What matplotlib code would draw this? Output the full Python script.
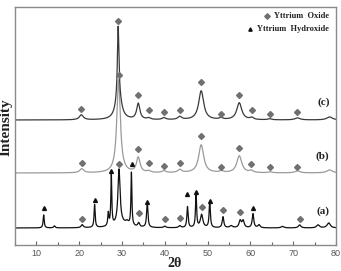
import numpy as np
import matplotlib
matplotlib.use("Agg")
import matplotlib.pyplot as plt

# ---- data (y in arbitrary intensity units) ----
two_theta_range = (5, 80)

a_base = 17
a_pos = [11.7, 14.2, 20.7, 23.6, 26.8, 27.5, 29.3, 30.0, 31.2, 32.2, 33.9, 35.9, 40.0, 43.5,
         45.3, 47.3, 48.6, 50.5, 53.6, 55.5, 57.6, 58.3, 60.6, 62.0, 67.5, 71.5, 75.8, 78.3]
a_height = [13, 2, 3, 23, 13, 51, 55, 4, 3, 53, 4, 25, 1.5, 2,
            21, 34, 13, 26, 11, 2, 7, 7, 14, 3, 1.5, 3, 3, 5]
a_hwhm = [0.15, 0.2, 0.3, 0.15, 0.15, 0.13, 0.3, 2.0, 0.4, 0.13, 0.25, 0.18, 0.3, 0.3,
          0.17, 0.15, 0.35, 0.17, 0.22, 0.4, 0.3, 0.3, 0.22, 0.3, 0.4, 0.35, 0.4, 0.45]

b_base = 72
b_pos = [20.6, 29.2, 33.8, 36.2, 39.8, 43.5, 48.5, 53.2, 57.4, 60.2, 64.6, 71.0, 78.5]
b_height = [4, 93, 15, 1.5, 2, 3, 28, 1.5, 17, 2, 1, 2, 3]
b_hwhm = [0.55, 0.5, 0.5, 0.5, 0.5, 0.55, 0.7, 0.5, 0.7, 0.5, 0.5, 0.7, 0.8]

c_base = 125
c_pos = [20.5, 29.1, 29.2, 33.8, 36.2, 39.8, 43.5, 48.5, 53.1, 57.4, 60.3, 64.5, 71.0, 78.5]
c_height = [5, 68, 26, 16, 1.5, 2, 3, 29, 1.5, 17, 2, 1, 2, 3]
c_hwhm = [0.55, 0.2, 0.75, 0.45, 0.5, 0.5, 0.55, 0.7, 0.5, 0.7, 0.5, 0.5, 0.7, 0.8]

a_tri_x = [11.7, 23.6, 27.5, 32.3, 35.9, 45.3, 47.3, 50.5, 60.7]
a_tri_y = [37, 45, 74, 81, 43, 51, 53, 44, 37]
a_dia_x = [20.7, 29.4, 33.9, 40.0, 43.6, 48.7, 53.7, 57.6, 71.6]
a_dia_y = [26, 81, 32, 26, 27, 38, 35, 33, 26]
b_dia_x = [20.6, 29.2, 33.8, 36.2, 39.8, 43.5, 48.5, 53.2, 57.4, 60.2, 64.6, 71.0]
b_dia_y = [82, 170, 96, 82, 79, 82, 109, 78, 97, 81, 78, 78]
c_dia_x = [20.5, 29.1, 33.8, 36.2, 39.8, 43.5, 48.5, 53.1, 57.4, 60.3, 64.5, 71.0]
c_dia_y = [136, 224, 150, 135, 133, 135, 163, 131, 150, 135, 131, 133]

labels = ["(a)", "(b)", "(c)"]
label_y = [34, 89, 143]
xticks = [10, 20, 30, 40, 50, 60, 70, 80]


def profile(x, base, pos, height, hwhm):
    y = np.full_like(x, float(base))
    for p, h, w in zip(pos, height, hwhm):
        y += h / (1.0 + ((x - p) / w) ** 2)
    return y


fig = plt.figure(figsize=(3.41, 2.71), dpi=100)
ax = fig.add_axes([15 / 341, 26 / 271, 321 / 341, 238 / 271])
x = np.linspace(two_theta_range[0], two_theta_range[1], 4000)

ax.plot(x, profile(x, a_base, a_pos, a_height, a_hwhm), color="#111111", lw=0.9)
ax.plot(x, profile(x, b_base, b_pos, b_height, b_hwhm), color="#9a9a9a", lw=0.9)
ax.plot(x, profile(x, c_base, c_pos, c_height, c_hwhm), color="#3a3a3a", lw=0.9)

dia_kw = dict(ls="none", marker="D", ms=3.0, color="#707070", mec="#707070")
tri_kw = dict(ls="none", marker="^", ms=2.8, color="#111111")
ax.plot(a_dia_x, a_dia_y, **dia_kw)
ax.plot(b_dia_x, b_dia_y, **dia_kw)
ax.plot(c_dia_x, c_dia_y, **dia_kw)
ax.plot(a_tri_x, a_tri_y, **tri_kw)

serif = ["Liberation Serif", "DejaVu Serif"]
for lab, ly in zip(labels, label_y):
    ax.text(78.5, ly, lab, ha="right", va="center", fontsize=8, fontweight="bold",
            family=serif, color="#222222")

# legend (manual)
ax.plot([63.9], [229], marker="D", ms=2.8, color="#707070", ls="none")
ax.text(78.3, 229, "Yttrium  Oxide", ha="right", va="center", fontsize=6,
        fontweight="bold", family=serif, color="#222222")
ax.plot([59.9], [216], marker="^", ms=2.4, color="#111111", ls="none")
ax.text(78.3, 216, "Yttrium  Hydroxide", ha="right", va="center", fontsize=6,
        fontweight="bold", family=serif, color="#222222")

ax.set_xlim(*two_theta_range)
ax.set_ylim(0, 238)
ax.set_yticks([])
ax.set_xticks(xticks)
ax.set_xticks(np.arange(5, 81, 5), minor=True)
ax.tick_params(axis="x", which="major", direction="in", length=3, width=0.8,
               colors="#666666", labelsize=6.5, pad=3)
ax.tick_params(axis="x", which="minor", direction="in", length=2, width=0.8,
               colors="#666666")
for lbl in ax.get_xticklabels():
    lbl.set_family(["Liberation Sans", "DejaVu Sans"])
    lbl.set_color("#555555")
for sp in ax.spines.values():
    sp.set_color("#8a8a8a")
    sp.set_linewidth(1.0)

fig.text(6 / 341, 1 - 127 / 271, "Intensity", rotation=90, ha="center", va="center",
         fontsize=11, fontweight="bold", family=serif, color="#222222")
fig.text(175 / 341, 1 / 271, "2θ", ha="center", va="bottom", fontsize=10,
         fontweight="bold", family=serif, color="#222222")

fig.savefig("out.png", dpi=100)
